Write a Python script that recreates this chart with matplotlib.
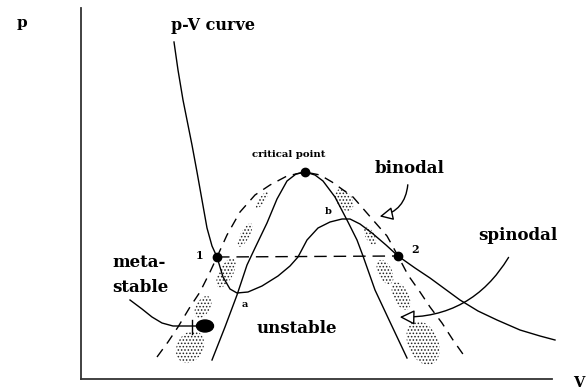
import matplotlib.pyplot as plt
from matplotlib.patches import Ellipse, FancyArrowPatch

plt.rcParams['hatch.linewidth'] = 0.7

# coordinates in drawing units: x to the right, y downward
pv_x = [174, 178, 183, 188, 192, 197, 202, 207, 212, 217, 223, 230, 237, 248, 262, 278, 290, 298,
        307, 318, 330, 342, 350, 360, 372, 386, 398, 415, 430, 445, 460, 478, 497, 520, 540, 555]
pv_y = [42, 70, 100, 125, 145, 172, 200, 228, 246, 257, 277, 289, 293, 292, 286, 276, 266, 257,
        240, 228, 222, 219, 219, 224, 233, 245, 256, 268, 278, 289, 300, 311, 320, 330, 336, 340]

spin_x = [212, 225, 237, 247, 255, 267, 277, 287, 296, 305, 315, 323, 335, 348, 357, 363, 375, 390, 407]
spin_y = [360, 327, 295, 265, 248, 223, 199, 181, 174, 172, 175, 181, 197, 222, 240, 256, 290, 322, 358]

bin_x = [157, 168, 178, 190, 200, 210, 217, 227, 240, 255, 270, 287, 305,
         320, 332, 353, 373, 387, 398, 408, 420, 430, 442, 453, 465]
bin_y = [357, 342, 327, 307, 292, 272, 257, 235, 212, 195, 185, 176, 172,
         175, 182, 197, 220, 236, 256, 275, 292, 307, 323, 340, 357]

# state points: 1, 2 and the critical point
pt_x = [217, 398, 305]
pt_y = [257, 256, 172]

# speckled (metastable) patches along the band between binodal and spinodal
sp_x = [190, 203, 226, 245, 262, 344, 370, 385, 401, 423]
sp_y = [347, 307, 273, 235, 200, 200, 236, 272, 296, 343]
sp_len = [34, 24, 32, 26, 20, 24, 20, 26, 30, 46]
sp_wid = [26, 14, 14, 9, 6, 16, 9, 14, 15, 30]
sp_ang = [-60, -60, -62, -62, -55, 55, 62, 64, 64, 66]

fig = plt.figure(figsize=(5.87, 3.90), dpi=100)
ax = fig.add_axes([0, 0, 1, 1])
ax.set_xlim(0, 587)
ax.set_ylim(390, 0)
ax.axis('off')

font = dict(family='DejaVu Serif', weight='bold', color='black')

# axes
ax.plot([81, 81], [8, 379], color='#333333', lw=1.3)
ax.plot([81, 552], [379, 379], color='#333333', lw=1.3)

# speckles
for x, y, l, w, a in zip(sp_x, sp_y, sp_len, sp_wid, sp_ang):
    ax.add_patch(Ellipse((x, y), l, w, angle=a, facecolor='none', edgecolor='#222222',
                         lw=0, hatch='.....'))

# curves
ax.plot(pv_x, pv_y, color='black', lw=1.0)
ax.plot(spin_x, spin_y, color='black', lw=1.0)
ax.plot(bin_x, bin_y, color='black', lw=1.0, linestyle=(0, (7, 5)))
ax.plot([pt_x[0], pt_x[1]], [pt_y[0], pt_y[1]], color='black', lw=1.0, linestyle=(0, (9, 5)))

ax.plot(pt_x, pt_y, 'o', color='black', ms=6)

# metastable pointer with large dot
ax.plot([130, 142, 152, 162, 173, 197], [300, 309, 317, 323, 326, 326], color='black', lw=1.0)
ax.plot([192, 192], [320, 334], color='black', lw=1.0)
ax.add_patch(Ellipse((205, 326), 17, 12, color='black'))

# hollow-headed arrows
ax.add_patch(FancyArrowPatch((408, 182), (377, 217), connectionstyle='arc3,rad=-0.4',
                             arrowstyle='-|>,head_length=8,head_width=4',
                             facecolor='white', edgecolor='black', lw=1.0))
ax.add_patch(FancyArrowPatch((510, 255), (397, 317), connectionstyle='arc3,rad=-0.3',
                             arrowstyle='-|>,head_length=9,head_width=4.5',
                             facecolor='white', edgecolor='black', lw=1.0))

# labels
ax.text(17, 27, 'p', fontsize=11, **font)
ax.text(171, 30, 'p-V curve', fontsize=11.5, **font)
ax.text(289, 157, 'critical point', fontsize=7.3, ha='center', **font)
ax.text(375, 173, 'binodal', fontsize=12, **font)
ax.text(478, 240, 'spinodal', fontsize=12, **font)
ax.text(112, 267, 'meta-', fontsize=12, **font)
ax.text(112, 292, 'stable', fontsize=12, **font)
ax.text(257, 333, 'unstable', fontsize=12, **font)
ax.text(196, 259, '1', fontsize=8, **font)
ax.text(411, 253, '2', fontsize=8, **font)
ax.text(242, 307, 'a', fontsize=7, **font)
ax.text(325, 214, 'b', fontsize=7, **font)
ax.text(573, 387, 'V', fontsize=10.5, **font)

fig.savefig('out.png', dpi=100)
